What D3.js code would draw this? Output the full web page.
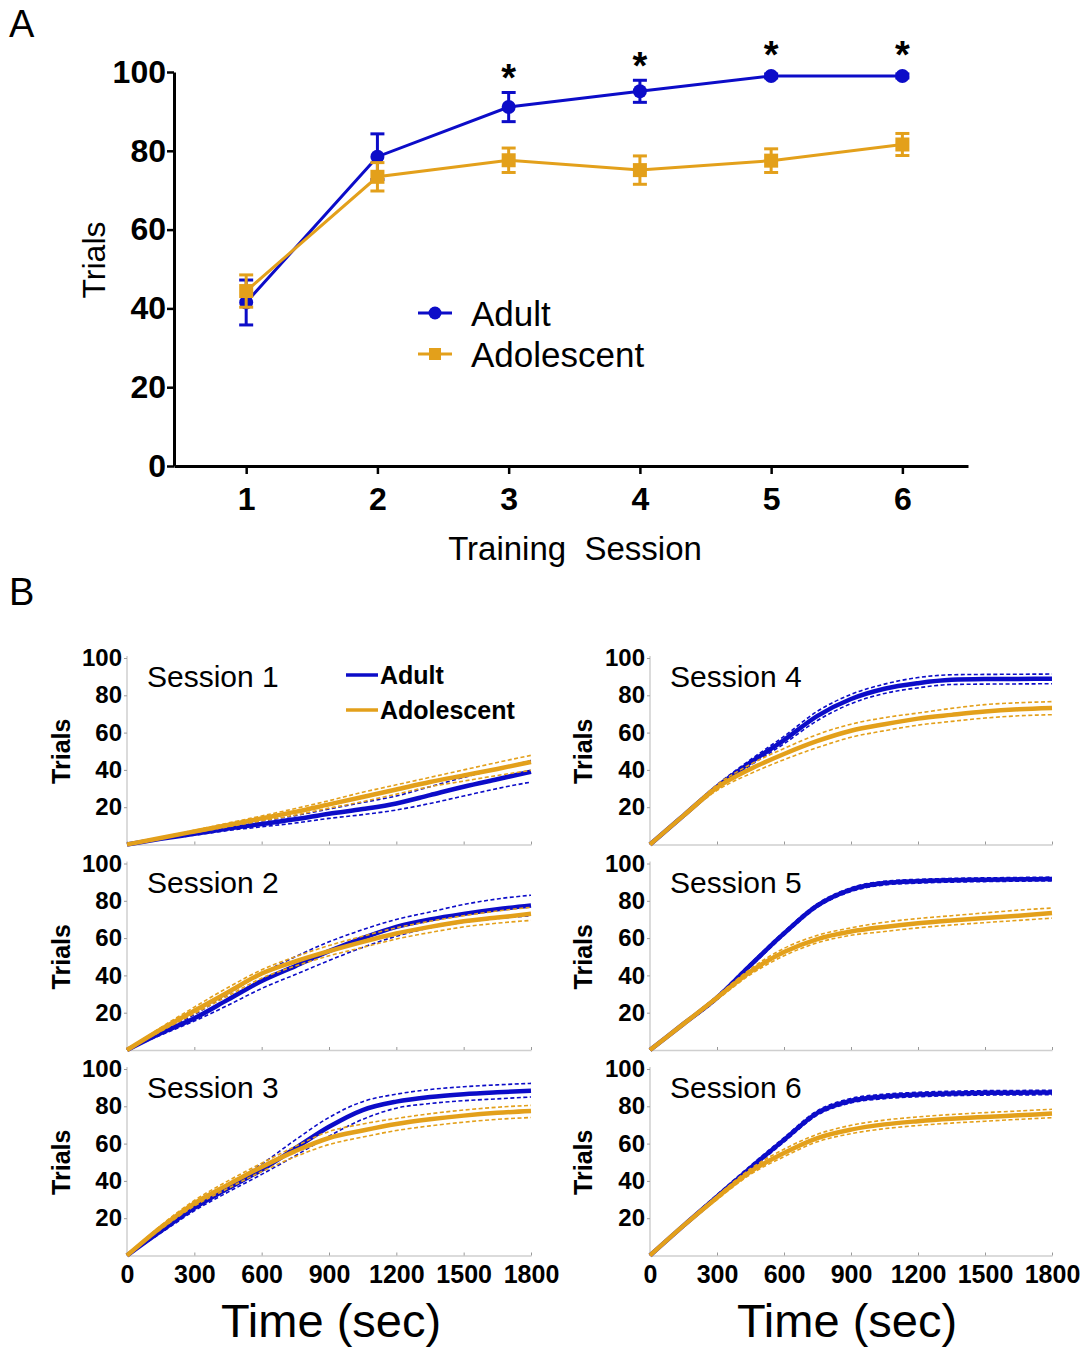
<!DOCTYPE html>
<html>
<head>
<meta charset="utf-8">
<script src="https://cdn.jsdelivr.net/npm/d3@7"></script>
<style>
  body { margin: 0; background: #fff; }
  text { font-family: "Liberation Sans", Arial, sans-serif; }
</style>
</head>
<body>
<script>
// colours
var blue = "#0c0cc8";
var orange = "#e3a01b";

// ---------- Panel A data ----------
var sessions = [1, 2, 3, 4, 5, 6];
var adultMean = [41.5, 78.5, 91.1, 95.1, 99, 99];
var adultSem = [5.7, 5.8, 3.7, 2.8, 0.5, 0.5];
var adolMean = [44.4, 73.4, 77.6, 75.1, 77.5, 81.6];
var adolSem = [4.1, 3.6, 3.1, 3.6, 3.0, 2.8];
var starSessions = [3, 4, 5, 6];
var yTicksA = [0, 20, 40, 60, 80, 100];

// ---------- Panel B data (cumulative trials over time) ----------
var times = [0, 150, 300, 450, 600, 750, 900, 1050, 1200, 1350, 1500, 1650, 1800];
var timeTicks = [0, 300, 600, 900, 1200, 1500, 1800];
var yTicksB = [20, 40, 60, 80, 100];

// one row per session 1..6
var adultCurve = [
  [0, 3, 5.7, 8.5, 11, 13.5, 16.5, 19, 22, 26.5, 31, 35, 39],
  [0, 9, 17, 27, 37, 45, 53, 60, 66, 70, 73, 75.5, 77.5],
  [0, 13, 25.5, 36, 46, 57.5, 69, 78, 82.5, 85, 86.5, 87.5, 88.3],
  [0, 15.5, 31, 44, 56, 69, 78, 83.5, 86.5, 88.3, 88.7, 88.8, 88.9],
  [0, 14, 28, 45.5, 62.5, 77.5, 86, 89.5, 90.5, 91, 91.3, 91.5, 91.7],
  [0, 16, 31.5, 47, 62, 76.5, 83, 85.3, 86.3, 86.9, 87.2, 87.3, 87.4]
];
var adultUpper = [
  [0, 3.3, 6.3, 9.5, 12.5, 15.5, 19, 22.5, 26, 31, 36, 40.5, 45],
  [0, 10, 19, 30, 41, 50, 58, 64.5, 70, 74, 78, 81, 83],
  [0, 14, 27, 38, 49, 62, 74, 82.5, 86.5, 89, 90.5, 91.5, 92.3],
  [0, 16, 32, 45.5, 58, 71.5, 80.5, 86, 89.5, 91, 91.2, 91.3, 91.4],
  [0, 14.5, 29, 46.5, 63.5, 78.5, 87, 90.5, 91.5, 92, 92.3, 92.5, 92.7],
  [0, 16.6, 32.6, 48.2, 63.2, 77.7, 84.2, 86.5, 87.5, 88.1, 88.4, 88.5, 88.6]
];
var adultLower = [
  [0, 2.7, 5, 7.5, 9.5, 11.5, 14, 16, 18.5, 22, 26, 30, 33.5],
  [0, 8, 15.5, 24, 33, 40.5, 48, 55, 61, 65.5, 68.5, 70.5, 72],
  [0, 12, 24, 34, 43.5, 53.5, 64, 73, 79, 81.5, 83, 84, 85],
  [0, 15, 30, 42.5, 54, 66.5, 75.5, 81, 84, 85.8, 86, 86.1, 86.2],
  [0, 13.5, 27, 44.5, 61.5, 76.5, 85, 88.5, 89.5, 90, 90.3, 90.5, 90.7],
  [0, 15.4, 30.4, 45.8, 60.8, 75.3, 81.8, 84.1, 85.1, 85.7, 86, 86.1, 86.2]
];
var adolCurve = [
  [0, 3.5, 7, 10.5, 14, 17.5, 21.5, 25.5, 29.5, 33.5, 37, 40.5, 44.3],
  [0, 11, 21, 31, 41, 47.5, 53, 58, 62.5, 66, 69, 71, 73],
  [0, 15, 28, 38, 47.5, 56, 63, 67, 70.5, 73, 75, 76.5, 77.5],
  [0, 15.5, 30.5, 40.5, 48.5, 55.5, 61, 64.5, 67.5, 69.5, 71.3, 72.5, 73.2],
  [0, 14, 28, 42, 52.5, 59.5, 63.5, 66, 68, 69.5, 70.8, 72, 73.4],
  [0, 16, 31, 45, 55, 63, 67.5, 70.3, 72, 73.3, 74.3, 75.2, 76.1]
];
var adolUpper = [
  [0, 3.8, 7.6, 11.5, 15.3, 19.3, 23.5, 28, 32, 36, 40, 44, 47.8],
  [0, 12, 23, 33.5, 43, 50, 56, 61, 65.5, 69, 72, 74.5, 76.5],
  [0, 16, 29.5, 40, 49.5, 58.5, 66.5, 70.5, 73.5, 76, 78, 79.5, 80.5],
  [0, 16, 32, 43, 51.5, 59, 64.5, 68, 70.5, 73, 75, 76, 76.6],
  [0, 14.5, 29, 43.5, 54.5, 61.5, 65.5, 68.5, 70.5, 72, 73.5, 75, 76.1],
  [0, 16.5, 32, 46.5, 57, 65, 69.8, 72.6, 74.3, 75.6, 76.6, 77.5, 78.4]
];
var adolLower = [
  [0, 3.2, 6.4, 9.5, 12.7, 15.8, 19.5, 23, 27, 31, 34, 37, 39.8],
  [0, 10, 19.5, 29, 38.5, 45, 50.5, 55, 59.5, 63, 66, 68, 69.5],
  [0, 14, 26.5, 36, 45, 53, 59.5, 63.5, 67, 69.5, 71.5, 73, 74],
  [0, 15, 29, 38, 45.5, 52, 57.5, 61, 64, 66, 67.8, 69, 69.6],
  [0, 13.5, 27, 40.5, 50.5, 57.5, 61.5, 63.5, 65.5, 67, 68.3, 69.5, 70.7],
  [0, 15.5, 30, 43.5, 53, 61, 65.3, 68, 69.7, 71, 72, 73, 73.9]
];

var svg = d3.select("body")
  .append("svg")
  .attr("width", 1086)
  .attr("height", 1348)
  .style("background", "#fff");

// ================= Panel A =================
svg.append("text").attr("x", 9).attr("y", 37).attr("font-size", 38).text("A");

var xA = d3.scaleLinear().domain([0.45, 6.5]).range([174, 968]);
var yA = d3.scaleLinear().domain([0, 100]).range([466, 72]);

var yAxisA = svg.append("g")
  .attr("transform", "translate(174,0)")
  .call(d3.axisLeft(yA).tickValues(yTicksA).tickSize(7).tickPadding(1).tickSizeOuter(0));
var xAxisA = svg.append("g")
  .attr("transform", "translate(0,466)")
  .call(d3.axisBottom(xA).tickValues(sessions).tickFormat(d3.format("d"))
    .tickSize(8).tickPadding(13).tickSizeOuter(0));

[yAxisA, xAxisA].forEach(function(g) {
  g.select(".domain").attr("stroke", "#000").attr("stroke-width", 3);
  g.selectAll(".tick line").attr("stroke", "#000").attr("stroke-width", 2.5);
  g.selectAll(".tick text")
    .attr("font-size", 32).attr("font-weight", "bold")
    .attr("font-family", "Liberation Sans, Arial, sans-serif").attr("fill", "#000");
});

svg.append("text")
  .attr("transform", "translate(105,260) rotate(-90)")
  .attr("text-anchor", "middle").attr("font-size", 32).text("Trials");
svg.append("text")
  .attr("x", 575).attr("y", 560)
  .attr("text-anchor", "middle").attr("font-size", 33)
  .attr("xml:space", "preserve").text("Training  Session");

function drawSeriesA(means, sems, color, shape) {
  var pts = sessions.map(function(s, i) { return { s: s, m: means[i], e: sems[i] }; });
  var line = d3.line().x(function(d) { return xA(d.s); }).y(function(d) { return yA(d.m); });
  svg.append("path").datum(pts)
    .attr("d", line).attr("fill", "none").attr("stroke", color).attr("stroke-width", 3);
  var eb = svg.append("g").attr("stroke", color).attr("stroke-width", 3);
  pts.forEach(function(d) {
    var x = xA(d.s);
    eb.append("line").attr("x1", x).attr("x2", x).attr("y1", yA(d.m - d.e)).attr("y2", yA(d.m + d.e));
    eb.append("line").attr("x1", x - 7).attr("x2", x + 7).attr("y1", yA(d.m + d.e)).attr("y2", yA(d.m + d.e));
    eb.append("line").attr("x1", x - 7).attr("x2", x + 7).attr("y1", yA(d.m - d.e)).attr("y2", yA(d.m - d.e));
  });
  pts.forEach(function(d) {
    if (shape === "circle") {
      svg.append("circle").attr("cx", xA(d.s)).attr("cy", yA(d.m)).attr("r", 7).attr("fill", color);
    } else {
      svg.append("rect").attr("x", xA(d.s) - 7).attr("y", yA(d.m) - 7)
        .attr("width", 14).attr("height", 14).attr("fill", color);
    }
  });
}
drawSeriesA(adultMean, adultSem, blue, "circle");
drawSeriesA(adolMean, adolSem, orange, "square");

// significance stars
starSessions.forEach(function(s) {
  var i = sessions.indexOf(s);
  var top = Math.min(yA(adultMean[i] + adultSem[i]), yA(adultMean[i]) - 7);
  svg.append("text").attr("x", xA(s)).attr("y", top - 1)
    .attr("text-anchor", "middle").attr("font-size", 38).attr("font-weight", "bold").text("*");
});

// legend A
var legA = [
  { name: "Adult", color: blue, shape: "circle", y: 313 },
  { name: "Adolescent", color: orange, shape: "square", y: 354 }
];
legA.forEach(function(d) {
  svg.append("line").attr("x1", 418).attr("x2", 452).attr("y1", d.y).attr("y2", d.y)
    .attr("stroke", d.color).attr("stroke-width", 3);
  if (d.shape === "circle") {
    svg.append("circle").attr("cx", 435).attr("cy", d.y).attr("r", 6.5).attr("fill", d.color);
  } else {
    svg.append("rect").attr("x", 429).attr("y", d.y - 6).attr("width", 12).attr("height", 12).attr("fill", d.color);
  }
  svg.append("text").attr("x", 471).attr("y", d.y + 13).attr("font-size", 35).text(d.name);
});

// ================= Panel B =================
svg.append("text").attr("x", 9).attr("y", 605).attr("font-size", 38).text("B");

var colX = [[127, 531], [650, 1052]];
var rowTop = [658, 863.5, 1069];
var panelH = 186.5;

function drawPanel(idx) {
  var col = idx < 3 ? 0 : 1;
  var row = idx % 3;
  var top = rowTop[row];
  var x = d3.scaleLinear().domain([0, 1800]).range(colX[col]);
  var y = d3.scaleLinear().domain([0, 100]).range([top + panelH, top]);

  var g = svg.append("g");
  var ya = g.append("g").attr("transform", "translate(" + colX[col][0] + ",0)")
    .call(d3.axisLeft(y).tickValues(yTicksB).tickSize(3).tickPadding(2).tickSizeOuter(0));
  var xa = g.append("g").attr("transform", "translate(0," + (top + panelH) + ")")
    .call(d3.axisBottom(x).tickValues(timeTicks).tickSize(-3).tickPadding(10).tickSizeOuter(0)
      .tickFormat(row === 2 ? d3.format("d") : function() { return ""; }));
  [ya, xa].forEach(function(a) {
    a.select(".domain").attr("stroke", "#cfcfcf").attr("stroke-width", 1.5);
    a.selectAll(".tick line").attr("stroke", "#9a9a9a").attr("stroke-width", 1);
    a.selectAll(".tick text").attr("font-size", 24).attr("font-weight", "bold")
      .attr("font-family", "Liberation Sans, Arial, sans-serif").attr("fill", "#000");
  });
  xa.selectAll(".tick text").attr("font-size", 25);
  // y-axis domain path: extend to 0
  ya.select(".domain").attr("d", "M0," + (top + panelH) + "V" + (top - 2));

  var line = d3.line()
    .x(function(d, i) { return x(times[i]); })
    .y(function(d) { return y(d); })
    .curve(d3.curveMonotoneX);

  var groups = [
    { c: adultCurve[idx], u: adultUpper[idx], l: adultLower[idx], color: blue },
    { c: adolCurve[idx], u: adolUpper[idx], l: adolLower[idx], color: orange }
  ];
  groups.forEach(function(s) {
    [s.u, s.l].forEach(function(arr) {
      g.append("path").datum(arr).attr("d", line).attr("fill", "none")
        .attr("stroke", s.color).attr("stroke-width", 1.6).attr("stroke-dasharray", "4,2.5");
    });
    g.append("path").datum(s.c).attr("d", line).attr("fill", "none")
      .attr("stroke", s.color).attr("stroke-width", 4.5);
  });

  g.append("text").attr("x", colX[col][0] + 20).attr("y", top + 29)
    .attr("font-size", 30).text("Session " + (idx + 1));

  var lx = col === 0 ? 70 : 592;
  g.append("text")
    .attr("transform", "translate(" + lx + "," + (top + panelH / 2) + ") rotate(-90)")
    .attr("text-anchor", "middle").attr("font-size", 25).attr("font-weight", "bold").text("Trials");
}
for (var p = 0; p < 6; p++) drawPanel(p);

// legend B (inside session 1)
var legB = [{ name: "Adult", color: blue, y: 675 }, { name: "Adolescent", color: orange, y: 710 }];
legB.forEach(function(d) {
  svg.append("line").attr("x1", 346).attr("x2", 378).attr("y1", d.y).attr("y2", d.y)
    .attr("stroke", d.color).attr("stroke-width", 3.5);
  svg.append("text").attr("x", 380).attr("y", d.y + 9).attr("font-size", 25)
    .attr("font-weight", "bold").text(d.name);
});

// x titles
[[331, 0], [847, 1]].forEach(function(d) {
  svg.append("text").attr("x", d[0]).attr("y", 1337).attr("text-anchor", "middle")
    .attr("font-size", 47).text("Time (sec)");
});
</script>
</body>
</html>
